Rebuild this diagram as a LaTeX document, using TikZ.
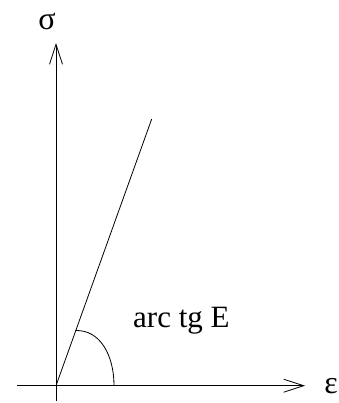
\documentclass[tikz,border=0pt]{standalone}
\usepackage{fontspec}
\setmainfont{Liberation Serif}
\usetikzlibrary{arrows.meta}
\begin{document}
\begin{tikzpicture}[x=1pt,y=-1pt,
  axis/.style={line width=0.8pt,-{Straight Barb[length=20pt,width=13pt,line width=0.8pt]}},
  curve/.style={line width=0.8pt},
  lbl/.style={inner sep=0pt,font=\fontsize{31}{33}\selectfont},
  glbl/.style={inner sep=0pt,font=\fontsize{32}{34}\selectfont}]
\useasboundingbox (0,0) rectangle (338,403);
\coordinate (O) at (56,385.7);
\coordinate (ybot) at (56,401);
\coordinate (ytop) at (56,43);
\coordinate (xleft) at (17,385.7);
\coordinate (xright) at (305,385.7);
\coordinate (lend) at (151.7,119);
\coordinate (arcA) at (76,330.5);
\coordinate (arcB) at (114,385.7);
\draw[axis] (ybot) -- (ytop);
\draw[axis] (xleft) -- (xright);
\draw[curve] (O) -- (lend);
\draw[curve] (arcA) .. controls (100,330) and (114,355) .. (arcB);
\node[glbl] (sigma) at (47,21) {σ};
\node[glbl] (eps) at (331,386) {ε};
\node[lbl,anchor=base west] (lab) at (133,327.7) {arc tg E};
\end{tikzpicture}
\end{document}
